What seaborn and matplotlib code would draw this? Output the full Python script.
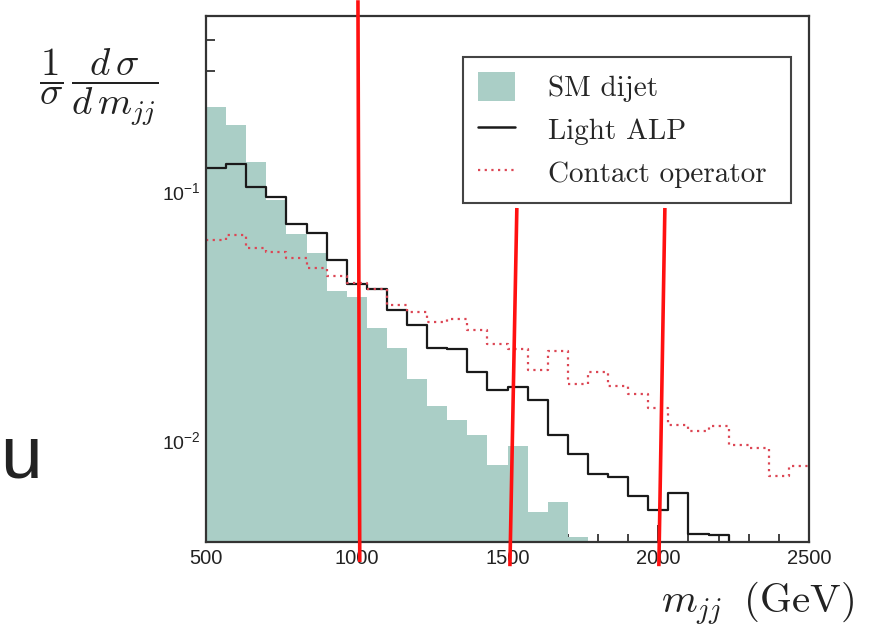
import numpy as np
import pandas as pd
import matplotlib
matplotlib.use("Agg")
import matplotlib.pyplot as plt
import matplotlib.transforms as mtransforms
from matplotlib.patches import Patch
from matplotlib.lines import Line2D
from matplotlib.ticker import MultipleLocator, LogLocator, NullFormatter
import seaborn as sns

# ---------------- data (normalised distributions, 30 bins 500-2500 GeV) ----------------
n_bins = 30
m_range = (500, 2500)
sm_dijet = [0.216, 0.184, 0.130, 0.0916, 0.0674, 0.0564, 0.0397, 0.0374, 0.0283, 0.0235,
            0.0177, 0.0137, 0.0121, 0.0105, 0.00798, 0.00951, 0.00519, 0.00569, 0.00412, 0,
            0, 0, 0, 0, 0, 0, 0, 0, 0, 0]
light_alp = [0.1238, 0.1276, 0.1030, 0.0945, 0.0735, 0.0678, 0.0527, 0.0425, 0.0403, 0.0333,
             0.0290, 0.0234, 0.0232, 0.0188, 0.0159, 0.0164, 0.0146, 0.0105, 0.00883, 0.00735,
             0.00716, 0.00600, 0.00527, 0.00618, 0.00423, 0.00419, 0, 0, 0, 0]
contact_op = [0.0634, 0.0664, 0.0590, 0.0569, 0.0536, 0.0489, 0.0456, 0.0429, 0.0406, 0.0348,
              0.0327, 0.0299, 0.0306, 0.0277, 0.0243, 0.0232, 0.0191, 0.0228, 0.0169, 0.0188,
              0.0165, 0.0153, 0.0135, 0.0116, 0.0109, 0.0114, 0.00960, 0.00931, 0.00721, 0.00793]
series_labels = ["SM dijet", "Light ALP", "Contact operator"]
x_ticks = [500, 1000, 1500, 2000, 2500]
# hand-drawn red marker lines: (x at top, x at bottom) in GeV
marker_lines = [(1004, 1010), (1531, 1508), (2022, 2002)]

bin_edges = np.linspace(m_range[0], m_range[1], n_bins + 1)
bin_centers = 0.5 * (bin_edges[:-1] + bin_edges[1:])
df = pd.DataFrame({"mjj": bin_centers, "sm": sm_dijet, "alp": light_alp, "co": contact_op})

# ---------------- style ----------------
sns.set_theme(style="ticks")
plt.rcParams["font.family"] = ["Liberation Sans", "DejaVu Sans"]
plt.rcParams["mathtext.fontset"] = "cm"

GREEN = "#aacec6"
RED_DOT = "#dc4654"

fig = plt.figure(figsize=(8.8, 6.34), dpi=100)
ax = fig.add_axes([206 / 880, 1 - 542 / 634, (809 - 206) / 880, (542 - 16) / 634])

hist_kw = dict(bins=n_bins, binrange=m_range, element="step", ax=ax)
sns.histplot(data=df, x="mjj", weights="sm", fill=True,
             color=GREEN, alpha=1.0, linewidth=0, **hist_kw)
sns.histplot(data=df, x="mjj", weights="alp", fill=False,
             color="#1a1a1a", linewidth=1.6, **hist_kw)
sns.histplot(data=df, x="mjj", weights="co", fill=False,
             color=RED_DOT, linewidth=1.6, linestyle=(0, (1.0, 2.0)), **hist_kw)

ax.set_yscale("log")
ax.set_xlim(*m_range)
ax.set_ylim(0.00393, 0.5)
ax.set_xlabel("")
ax.set_ylabel("")

ax.set_xticks(x_ticks)
ax.xaxis.set_minor_locator(MultipleLocator(100))
ax.yaxis.set_major_locator(LogLocator(base=10))
ax.yaxis.set_minor_locator(LogLocator(base=10, subs=np.arange(2, 10)))
ax.yaxis.set_minor_formatter(NullFormatter())

ax.tick_params(axis="x", which="major", direction="in", length=12, width=1.4, color="#333333",
               labelsize=14.5, pad=5, labelcolor="#222222", top=False)
ax.tick_params(axis="x", which="minor", direction="in", length=6, width=1.3, color="#333333", top=False)
ax.tick_params(axis="y", which="major", direction="in", length=12, width=1.4, color="#333333",
               labelsize=14, pad=4, labelcolor="#222222", right=False)
ax.tick_params(axis="y", which="minor", direction="in", length=6.5, width=1.3, color="#333333", right=False)

for side in ["left", "bottom", "top", "right"]:
    ax.spines[side].set_visible(True)
    ax.spines[side].set_color("#333333")
    ax.spines[side].set_linewidth(1.6)

# legend
handles = [Patch(facecolor=GREEN, edgecolor="none"),
           Line2D([], [], color="#1a1a1a", linewidth=1.8),
           Line2D([], [], color=RED_DOT, linewidth=1.6, linestyle=(0, (1.0, 2.0)))]
leg = fig.legend(handles, series_labels, loc="upper left",
                 bbox_to_anchor=(463 / 880, 1 - 57 / 634, (791 - 463) / 880, 0.0),
                 mode="expand", prop={"family": "cmr10", "size": 21},
                 handlelength=1.28, handleheight=1.2, handletextpad=1.14,
                 labelspacing=0.42, borderpad=0.5, borderaxespad=0.0,
                 fancybox=False, framealpha=1.0, edgecolor="#444444")
leg.get_frame().set_linewidth(1.5)

# axis labels
fig.text(99 / 880, 1 - 87 / 634, r"$\dfrac{1}{\sigma}\,\dfrac{d\,\sigma}{d\,m_{jj}}$",
         fontsize=28, ha="center", va="center", color="#222222")
fig.text(757 / 880, 1 - 604 / 634, r"$m_{jj}\;\;(\mathrm{GeV})$",
         fontsize=29.5, ha="center", va="center", color="#222222")

# stray slide letter at left edge
fig.text(0.0, 1 - 478 / 634, "u", fontsize=54, ha="left", va="baseline", color="#222222",
         family=["Liberation Sans", "DejaVu Sans"])

# hand-drawn red marker lines
trans = mtransforms.blended_transform_factory(ax.transData, ax.transAxes)
tops = [1.030, 0.635, 0.635]
bottoms = [-0.038, -0.046, -0.046]
for (xt, xb), yt, yb in zip(marker_lines, tops, bottoms):
    ax.plot([xt, xb], [yt, yb], color="#ff1010", linewidth=2.6, transform=trans,
            clip_on=False, zorder=10, solid_capstyle="butt")

fig.savefig("out.png", dpi=100)
